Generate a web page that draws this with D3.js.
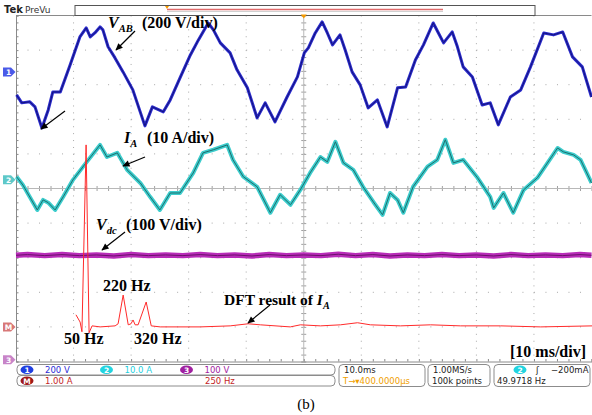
<!DOCTYPE html>
<html>
<head>
<meta charset="utf-8">
<script src="https://cdn.jsdelivr.net/npm/d3@7"></script>
<style>
  body { margin: 0; background: #fff; }
  svg { display: block; }
</style>
</head>
<body>
<svg width="592" height="415"></svg>
<script>
// ---- data (time in ms, values in channel units) ----
const vabData = [ // channel 1, volts
  [0.1,-133],[1.0,-179],[2.4,-173],[3.3,-202],[4.5,-324],[5.6,-220],[6.4,-116],[7.7,-116],
  [9.4,40],[11.1,202],[12.2,254],[12.9,202],[13.7,225],[14.6,260],[15.1,243],[16.0,145],
  [17.2,81],[18.6,0],[20.3,-104],[22.4,-312],[23.7,-202],[25.6,-231],[26.8,-162],[28.5,-35],
  [30.3,98],[31.7,185],[33.4,283],[34.3,243],[35.5,168],[37.2,110],[38.4,12],[40.2,-92],
  [41.9,-266],[43.3,-179],[45.0,-289],[47.1,-145],[48.9,-29],[50.1,110],[50.8,139],[52.0,225],
  [53.2,289],[54.1,225],[55.0,156],[56.3,214],[57.2,127],[58.4,0],[59.8,-75],[61.2,-208],
  [62.8,-162],[64.5,-318],[66.3,-92],[67.7,-87],[69.4,69],[70.8,156],[72.5,283],[73.4,225],
  [74.3,168],[75.8,231],[76.7,145],[77.7,29],[79.3,-29],[81.0,-191],[82.4,-179],[83.8,-306],
  [85.9,-145],[87.7,-104],[89.4,29],[91.7,225],[93.4,214],[95.0,231],[96.7,87],[98.4,29],[100,-145]
];
const iaData = [ // channel 2, amps
  [0.1,0.9],[1.2,-1.5],[3.7,-8.7],[4.7,-5.8],[5.6,-6.6],[6.8,-8.7],[8.2,-4.9],[9.9,0],
  [12.3,5.2],[14.6,10.1],[15.8,6.6],[17.6,7.8],[19.3,2.9],[21.6,-0.9],[23.3,-4.9],[25.0,-8.7],
  [26.8,-3.8],[28.5,-3.8],[30.8,2.0],[32.5,7.8],[34.3,8.7],[36.7,10.1],[37.7,5.8],[39.5,0.9],
  [41.9,-2.0],[44.2,-9.5],[45.9,-4.3],[47.7,-7.2],[49.4,-2.9],[51.1,2.0],[52.9,6.6],[54.1,5.2],
  [55.5,11.0],[56.9,4.9],[58.6,2.9],[60.3,-2.0],[62.1,-6.4],[63.7,-10.1],[65.0,-3.8],[66.3,-5.8],
  [67.3,-9.5],[69.0,-2.0],[71.5,3.8],[73.2,5.8],[74.6,11.6],[76.0,4.9],[77.7,5.8],[80.2,0.6],
  [82.4,-4.9],[83.0,-8.1],[84.7,-3.8],[86.4,-9.5],[88.2,-2.9],[90.6,0.6],[94.1,9.2],[95.1,8.1],
  [96.9,7.2],[98.1,5.8],[100,-0.9]
];
const vdcData = [ // channel 3, volts
  [0,302],[2,304],[5,301],[8,304],[11,301],[14,303],[17,300],[20,304],[23,301],[26,303],
  [29,301],[32,304],[35,301],[38,303],[41,300],[44,304],[47,301],[50,303],[53,301],[56,305],
  [59,301],[62,304],[65,300],[68,303],[71,301],[74,304],[77,301],[80,303],[83,300],[86,304],
  [89,301],[92,303],[95,301],[98,304],[100,302]
];
const dftData = [ // math channel, frequency in Hz, amplitude in A
  [4,0.35],[22,0.14],[30,-0.14],[48,5.26],[61,-0.17],[74,0.03],[109,0],[174,0.03],[187,0.09],
  [209,0.92],[231,0.06],[243,0.09],[252,0.2],[261,0.06],[274,0.06],[309,0.72],[331,0.03],
  [370,0],[544,0],[674,0.03],[752,0.09],[805,0.06],[935,0],[979,0.06],[1066,0.03],[1153,0.06],
  [1227,0.12],[1283,0.06],[1414,0.03],[1544,0.06],[1675,0.03],[1849,0.03],[2023,0],[2249,0.03]
];

const channels = ["1", "2", "3", "M"];
const channelScales = ["200 V", "10.0 A", "100 V", "1.00 A"];
const channelPerDiv = [200, 10, 100, 1];
const channelOffset = [3.37, 0.25, -4.95, -4.0]; // divisions from centre
const channelColors = ["#2b2bd6", "#1fd0e0", "#a21ca2", "#c41e1e"];
const markerColors = ["#4a5ae8", "#5ec8c8", "#c884c8", "#d87878"];

const svg = d3.select("svg");
const width = +svg.attr("width");
const height = +svg.attr("height");

const plot = { left: 16, top: 15.5, right: 591.5, bottom: 361.5 };
const xScale = d3.scaleLinear().domain([0, 100]).range([plot.left, plot.right]);
const yDiv = d3.scaleLinear().domain([-5, 5]).range([plot.bottom, plot.top]);
const fScale = d3.scaleLinear().domain([0, 250]).range([xScale(10.26), xScale(20.26)]);
const chY = i => v => yDiv(channelOffset[i] + v / channelPerDiv[i]);

const defs = svg.append("defs");
defs.append("marker")
  .attr("id", "ah").attr("viewBox", "0 0 10 10")
  .attr("refX", 9).attr("refY", 5)
  .attr("markerWidth", 7).attr("markerHeight", 6)
  .attr("orient", "auto")
  .append("path").attr("d", "M0,0.5 L10,5 L0,9.5 z").attr("fill", "#000");

// ---- graticule ----
const grid = svg.append("g");
d3.range(1, 10).filter(i => i !== 5).forEach(i => {
  grid.append("line")
    .attr("x1", xScale(i * 10)).attr("x2", xScale(i * 10))
    .attr("y1", plot.top).attr("y2", plot.bottom)
    .attr("stroke", "#a8a8a8").attr("stroke-width", 1)
    .attr("stroke-dasharray", `1,${(plot.bottom - plot.top) / 50 - 1}`);
  grid.append("line")
    .attr("y1", yDiv(i - 5)).attr("y2", yDiv(i - 5))
    .attr("x1", plot.left).attr("x2", plot.right)
    .attr("stroke", "#a8a8a8").attr("stroke-width", 1)
    .attr("stroke-dasharray", `1,${(plot.right - plot.left) / 50 - 1}`);
});

// centre cross with minor ticks
const minorX = d3.range(0, 100.01, 2);
const minorY = d3.range(-5, 5.01, 0.2);
const cx = xScale(50), cy = yDiv(0);
[d3.axisBottom, d3.axisTop].forEach(ax => {
  grid.append("g").attr("transform", `translate(0,${cy})`)
    .call(ax(xScale).tickValues(minorX).tickSize(2.5).tickFormat(""))
    .call(g => g.select(".domain").remove())
    .selectAll("line").attr("stroke", "#a0a0a0");
});
[d3.axisLeft, d3.axisRight].forEach(ax => {
  grid.append("g").attr("transform", `translate(${cx},0)`)
    .call(ax(yDiv).tickValues(minorY).tickSize(2.5).tickFormat(""))
    .call(g => g.select(".domain").remove())
    .selectAll("line").attr("stroke", "#a0a0a0");
});
grid.append("line").attr("x1", plot.left).attr("x2", plot.right).attr("y1", cy).attr("y2", cy)
  .attr("stroke", "#b8b8b8");
grid.append("line").attr("x1", cx).attr("x2", cx).attr("y1", plot.top).attr("y2", plot.bottom)
  .attr("stroke", "#b8b8b8");

// border with ticks
grid.append("g").attr("transform", `translate(${plot.left},0)`)
  .call(d3.axisRight(yDiv).tickValues(minorY).tickSize(2.5).tickFormat(""))
  .call(g => g.select(".domain").attr("stroke", "#8a8a8a"))
  .selectAll("line").attr("stroke", "#8a8a8a");
grid.append("g").attr("transform", `translate(0,${plot.bottom})`)
  .call(d3.axisTop(xScale).tickValues(minorX).tickSize(2.5).tickFormat(""))
  .call(g => g.select(".domain").attr("stroke", "#8a8a8a"))
  .selectAll("line").attr("stroke", "#8a8a8a");
grid.append("line").attr("x1", plot.left).attr("x2", plot.right)
  .attr("y1", plot.top).attr("y2", plot.top).attr("stroke", "#8a8a8a");

// ---- traces ----
const traces = svg.append("g").attr("fill", "none").attr("stroke-linejoin", "round");
const lineOf = i => d3.line().x(d => xScale(d[0])).y(d => chY(i)(d[1]));

traces.append("path").datum(vdcData).attr("d", lineOf(2))
  .attr("stroke", "#b82cb8").attr("stroke-width", 5.5);
traces.append("path").datum(vdcData).attr("d", lineOf(2))
  .attr("stroke", "#6a106a").attr("stroke-width", 1);

traces.append("path").datum(iaData).attr("d", lineOf(1))
  .attr("stroke", "#3ccccc").attr("stroke-width", 4);
traces.append("path").datum(iaData).attr("d", lineOf(1))
  .attr("stroke", "#1d6e6e").attr("stroke-width", 1);

traces.append("path").datum(vabData).attr("d", lineOf(0))
  .attr("stroke", "#2a2acc").attr("stroke-width", 3);
traces.append("path").datum(vabData).attr("d", lineOf(0))
  .attr("stroke", "#14147e").attr("stroke-width", 1);

traces.append("path").datum(dftData)
  .attr("d", d3.line().x(d => fScale(d[0])).y(d => chY(3)(d[1])))
  .attr("stroke", "#ff2a2a").attr("stroke-width", 1);

// ---- channel markers on the left edge ----
const markerOrder = [0, 1, 3, 2];
markerOrder.forEach(i => {
  const y = chY(i)(0);
  const g = svg.append("g").attr("transform", `translate(0,${y})`);
  g.append("path").attr("d", "M3,-4.5 L11,-4.5 L15.5,0 L11,4.5 L3,4.5 Z")
    .attr("fill", markerColors[i]);
  g.append("text").attr("x", 8.5).attr("y", 3).attr("text-anchor", "middle")
    .attr("font-family", "DejaVu Sans").attr("font-size", 7.5).attr("font-weight", "bold")
    .attr("fill", "#fff").text(channels[i]);
});

// ---- header ----
svg.append("text").attr("x", 4).attr("y", 13).attr("font-family", "DejaVu Sans")
  .attr("font-weight", "bold").attr("font-size", 10).attr("fill", "#222").text("Tek");
svg.append("text").attr("x", 25).attr("y", 13).attr("font-family", "DejaVu Sans")
  .attr("font-size", 9).attr("fill", "#333").text("PreVu");
svg.append("rect").attr("x", 75).attr("y", 5.5).attr("width", 460).attr("height", 10)
  .attr("fill", "#fff").attr("stroke", "#555");
svg.append("line").attr("x1", 167).attr("x2", 443).attr("y1", 9.5).attr("y2", 9.5)
  .attr("stroke", "#e06a6a").attr("stroke-width", 1.3);
svg.append("line").attr("x1", 167).attr("x2", 443).attr("y1", 11.5).attr("y2", 11.5)
  .attr("stroke", "#d0d0d0").attr("stroke-width", 1);
svg.append("path").attr("d", "M165,6 L169,6 L167,9 Z").attr("fill", "#f59a00");
svg.append("path").attr("d", `M${cx - 3},${plot.top - 1} L${cx + 3},${plot.top - 1} L${cx},${plot.top + 3} Z`)
  .attr("fill", "#f59a00");

// ---- annotations ----
const serif = "Liberation Serif, Times New Roman, serif";
const label = (x, y, parts, size = 16) => {
  const t = svg.append("text").attr("x", x).attr("y", y)
    .attr("font-family", serif).attr("font-weight", "bold").attr("font-size", size);
  let shifted = false;
  parts.forEach(([s, kind, px]) => {
    const sp = t.append("tspan").text(s);
    if (px !== undefined) sp.attr("x", px);
    if (kind === "i") sp.attr("font-style", "italic");
    if (kind === "s") {
      sp.attr("font-style", "italic").attr("font-size", size * 0.66).attr("dy", 4);
      shifted = true;
    } else if (shifted) {
      sp.attr("dy", -4);
      shifted = false;
    }
  });
};
label(108, 28, [["V", "i"], ["AB", "s"], ["(200 V/div)", "", 142]]);
label(124, 143, [["I", "i"], ["A", "s"], ["(10 A/div)", "", 147]]);
label(96, 230, [["V", "i"], ["dc", "s"], ["(100 V/div)", "", 126]]);
label(103, 291, [["220 Hz", ""]]);
label(64, 344, [["50 Hz", ""]]);
label(134, 344, [["320 Hz", ""]]);
label(224, 305, [["DFT result of ", ""], ["I", "i"], ["A", "s"]], 15.5);
label(510, 357, [["[10 ms/div]", ""]]);

svg.append("text").attr("x", 306).attr("y", 409).attr("text-anchor", "middle")
  .attr("font-family", serif).attr("font-size", 15).text("(b)");

const arrows = [
  [135, 31, 116, 50], [65, 111, 41, 129], [145, 157, 123, 166],
  [125, 232, 102, 250], [270, 305, 248, 323]
];
svg.append("g").selectAll("line").data(arrows).enter().append("line")
  .attr("x1", d => d[0]).attr("y1", d => d[1]).attr("x2", d => d[2]).attr("y2", d => d[3])
  .attr("stroke", "#000").attr("stroke-width", 1.2).attr("marker-end", "url(#ah)");

// ---- status bar ----
const sb = svg.append("g").attr("font-family", "DejaVu Sans").attr("font-size", 8.5);
const box = (x, y, w, h) => sb.append("rect").attr("x", x).attr("y", y).attr("width", w)
  .attr("height", h).attr("rx", 4).attr("fill", "#fff").attr("stroke", "#8c8c8c");
box(17, 364.5, 318, 10.5);
box(17, 375.5, 318, 10.5);
box(339, 364.5, 86, 22);
box(428, 364.5, 62, 22);
box(494, 364.5, 96, 22);

const badge = (x, y, txt, fill) => {
  sb.append("ellipse").attr("cx", x).attr("cy", y).attr("rx", 6.5).attr("ry", 4.3).attr("fill", fill);
  sb.append("text").attr("x", x).attr("y", y + 3).attr("text-anchor", "middle")
    .attr("font-size", 7.5).attr("font-weight", "bold").attr("fill", "#fff").text(txt);
};
const badgeX = [27, 106.5, 186.5, 27];
const badgeY = [369.7, 369.7, 369.7, 380.7];
const badgeFill = ["#1f3fe0", "#22d4e0", "#a020a0", "#a01818"];
channels.forEach((c, i) => {
  badge(badgeX[i], badgeY[i], c, badgeFill[i]);
  sb.append("text").attr("x", badgeX[i] + 18).attr("y", badgeY[i] + 3)
    .attr("fill", channelColors[i]).text(channelScales[i]);
});
sb.append("text").attr("x", 205).attr("y", 383.7).attr("fill", channelColors[3]).text("250 Hz");

sb.append("text").attr("x", 344).attr("y", 372.5).attr("fill", "#222").text("10.0ms");
sb.append("text").attr("x", 343).attr("y", 383.5).attr("fill", "#f0a000").text("T\u2192\u25BE400.0000\u00B5s");
sb.append("text").attr("x", 433).attr("y", 372.5).attr("fill", "#222").text("1.00MS/s");
sb.append("text").attr("x", 432).attr("y", 383.5).attr("fill", "#222").text("100k points");
badge(520, 369.7, "2", "#22d4e0");
sb.append("text").attr("x", 536).attr("y", 372.5).attr("fill", "#222").text("\u0283");
sb.append("text").attr("x", 551).attr("y", 372.5).attr("fill", "#222").text("\u2212200mA");
sb.append("text").attr("x", 497).attr("y", 383.5).attr("fill", "#222").text("49.9718 Hz");
</script>
</body>
</html>
